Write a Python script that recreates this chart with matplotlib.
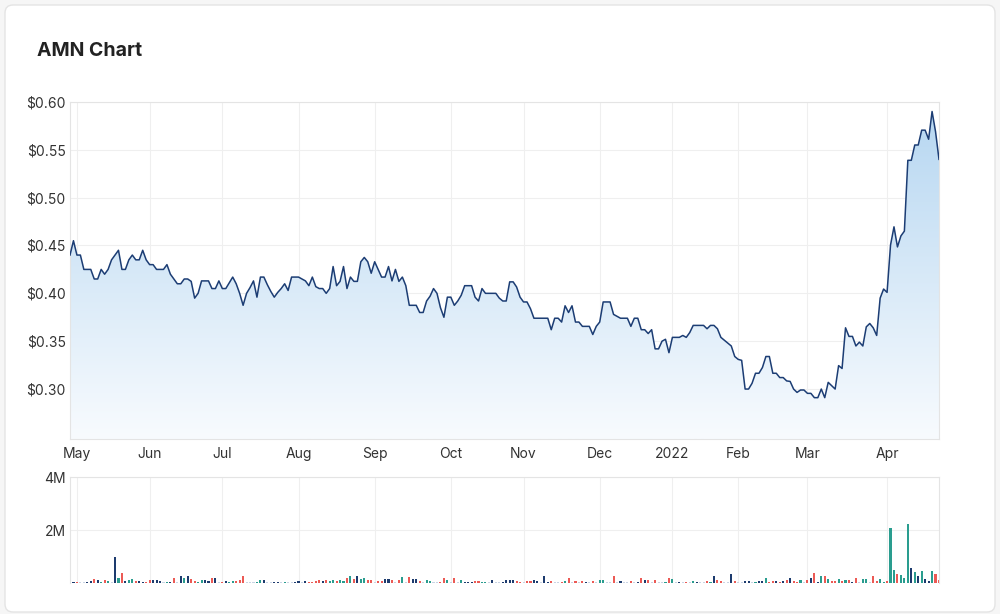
import numpy as np
import pandas as pd
import matplotlib
matplotlib.use("Agg")
import matplotlib.pyplot as plt
import matplotlib.patches as mpatches
from matplotlib.transforms import IdentityTransform

plt.rcParams['font.family'] = ['Inter', 'DejaVu Sans']

# ASX trading days, 29 Apr 2021 - 27 Apr 2022
holidays = ['2021-06-14', '2021-12-27', '2021-12-28', '2022-01-03',
            '2022-01-26', '2022-04-15', '2022-04-18', '2022-04-25']
days = pd.bdate_range('2021-04-29', '2022-04-27')
days = days[~days.isin(pd.to_datetime(holidays))]

price = [
    0.44, 0.455, 0.44, 0.44, 0.425, 0.425, 0.425, 0.415, 0.415, 0.425,
    0.42, 0.425, 0.435, 0.44, 0.445, 0.425, 0.425, 0.435, 0.44, 0.435,
    0.435, 0.445, 0.435, 0.43, 0.43, 0.425, 0.425, 0.425, 0.43, 0.42,
    0.415, 0.41, 0.41, 0.415, 0.415, 0.4125, 0.395, 0.40, 0.413, 0.413,
    0.413, 0.405, 0.405, 0.413, 0.405, 0.405, 0.411, 0.417, 0.41, 0.40,
    0.3875, 0.40, 0.406, 0.413, 0.396, 0.417, 0.417, 0.409, 0.402, 0.396,
    0.401, 0.405, 0.41, 0.403, 0.417, 0.417, 0.417, 0.415, 0.413, 0.408,
    0.417, 0.407, 0.405, 0.405, 0.40, 0.405, 0.428, 0.408, 0.4125, 0.428,
    0.405, 0.417, 0.4125, 0.4125, 0.433, 0.4375, 0.433, 0.421, 0.433, 0.425,
    0.417, 0.417, 0.428, 0.413, 0.425, 0.4125, 0.417, 0.408, 0.3875, 0.3875,
    0.3875, 0.38, 0.38, 0.392, 0.397, 0.405, 0.40, 0.385, 0.375, 0.396,
    0.396, 0.3875, 0.392, 0.398, 0.408, 0.408, 0.408, 0.396, 0.392, 0.405,
    0.40, 0.40, 0.40, 0.40, 0.395, 0.392, 0.392, 0.412, 0.412, 0.4066,
    0.396, 0.391, 0.391, 0.384, 0.374, 0.374, 0.374, 0.374, 0.374, 0.362,
    0.374, 0.374, 0.37, 0.387, 0.38, 0.387, 0.37, 0.37, 0.3655, 0.3655,
    0.3655, 0.357, 0.3655, 0.37, 0.391, 0.391, 0.391, 0.378, 0.376, 0.374,
    0.374, 0.374, 0.3655, 0.374, 0.374, 0.362, 0.362, 0.358, 0.362, 0.342,
    0.342, 0.35, 0.352, 0.338, 0.354, 0.354, 0.354, 0.356, 0.354, 0.359,
    0.3665, 0.3665, 0.3665, 0.3665, 0.363, 0.3665, 0.3665, 0.363, 0.354, 0.351,
    0.348, 0.345, 0.334, 0.331, 0.33, 0.30, 0.30, 0.306, 0.3165, 0.3165,
    0.3225, 0.334, 0.334, 0.3165, 0.3165, 0.312, 0.312, 0.3085, 0.308, 0.30,
    0.2965, 0.299, 0.299, 0.2955, 0.2955, 0.291, 0.291, 0.30, 0.291, 0.307,
    0.3035, 0.30, 0.3245, 0.3215, 0.364, 0.355, 0.355, 0.345, 0.349, 0.345,
    0.365, 0.3685, 0.364, 0.356, 0.395, 0.4045, 0.401, 0.4505, 0.4695, 0.4485,
    0.46, 0.465, 0.539, 0.539, 0.555, 0.555, 0.5705, 0.5705, 0.561, 0.59,
    0.569, 0.54,
]

# volume in millions
volume = [
    .05, .05, .05, .03, .03, .05, .06, .15, .10, .05,
    .12, .06, .04, .97, .20, .36, .08, .12, .15, .08,
    .06, .05, .04, .12, .10, .10, .08, .04, .04, .05,
    .20, .05, .25, .17, .25, .16, .08, .05, .10, .12,
    .08, .17, .20, .04, .04, .08, .05, .08, .08, .10,
    .25, .04, .03, .03, .05, .12, .12, .04, .03, .05,
    .04, .03, .04, .03, .03, .05, .08, .04, .08, .04,
    .03, .08, .10, .06, .10, .06, .12, .08, .12, .06,
    .20, .28, .15, .28, .15, .18, .10, .10, .03, .06,
    .08, .15, .15, .10, .03, .12, .22, .03, .22, .15,
    .15, .08, .05, .12, .06, .03, .03, .05, .18, .12,
    .05, .20, .04, .10, .05, .05, .05, .08, .08, .05,
    .05, .03, .10, .03, .03, .05, .12, .12, .12, .08,
    .05, .03, .08, .08, .12, .08, .03, .25, .05, .08,
    .03, .03, .05, .08, .20, .03, .08, .03, .08, .05,
    .03, .08, .03, .12, .12, .03, .03, .28, .03, .08,
    .03, .03, .08, .03, .05, .18, .12, .12, .03, .12,
    .03, .03, .05, .18, .15, .03, .05, .03, .05, .03,
    .08, .05, .03, .03, .08, .05, .28, .12, .08, .03,
    .03, .33, .08, .03, .03, .08, .08, .03, .05, .08,
    .08, .20, .05, .08, .08, .05, .08, .12, .18, .08,
    .05, .12, .03, .12, .18, .36, .05, .28, .25, .15,
    .08, .08, .15, .08, .12, .12, .05, .18, .03, .15,
    .15, .03, .28, .08, .15, .05, .08, 2.07, .50, .33,
    .30, .18, 2.23, .57, .42, .25, .45, .15, .08, .45,
    .33, .12,
]

vol_kind = (
    "nnrppnnrnt" "rtpntrnttr" "nnrrnnnptn" "rpntnrrttn" "nrnprnttrr"
    "rpppttnppn" "nptppnnpnr" "rrrnrttrtt" "rtrnttrrpr" "rnnrprtprn"
    "nrpttpprrt" "prptnnnrrt" "tpnppnnnnr" "rprrnnpnnr" "pprtrprprn"
    "prpttpprpn" "pprpnrnrpr" "pptrtpnprp" "tnpprtnrrp" "pnrppnnptn"
    "ntrrnrnrnr" "rtprnrntrt" "rrtrtrnrpt" "tprrttrttr" "tttntntnnt"
    "rr"
)
kind_colors = {'r': '#ec5a55', 't': '#2a9d8f', 'n': '#1d3b6e', 'p': '#c9d4e4'}

month_names = ['May', 'Jun', 'Jul', 'Aug', 'Sep', 'Oct', 'Nov', 'Dec',
               '2022', 'Feb', 'Mar', 'Apr']
price_ticks = [0.30, 0.35, 0.40, 0.45, 0.50, 0.55, 0.60]

n = min(len(price), len(days))
price = np.array(price[:n])
volume = np.array(volume[:n])
dates = days[:n]
x = np.arange(n)

# first trading day of each month
per = dates.to_period('M')
month_idx = [i for i in range(1, n) if per[i] != per[i - 1]]

fig = plt.figure(figsize=(10, 6.14), dpi=100)
fig.patch.set_facecolor('#f6f6f6')
card = mpatches.FancyBboxPatch((5, 2), 990, 607,
                               boxstyle="round,pad=0,rounding_size=8",
                               transform=IdentityTransform(),
                               facecolor='white', edgecolor='#e4e4e4', lw=1,
                               zorder=-10)
fig.patches.append(card)

fig.text(0.037, 0.917, 'AMN Chart', fontsize=14, fontweight='bold',
         color='#222222', va='center', ha='left')

grid_c = '#efefef'
spine_c = '#e4e4e4'

ax = fig.add_axes([0.07, 0.285, 0.869, 0.549])
ax.patch.set_alpha(0)
ylo, yhi = 0.2478, 0.60
line, = ax.plot(x, price, color='#1c3d74', lw=1.1, zorder=3)
poly = ax.fill_between(x, price, ylo, color='none', lw=0)
top = np.array([181, 214, 241]) / 255
bot = np.array([248, 251, 254]) / 255
t = np.linspace(0, 1, 256)[:, None]
grad = (top * (1 - t) + bot * t)[:, None, :]
im = ax.imshow(grad, extent=[0, n - 1, ylo, yhi], aspect='auto',
               origin='upper', zorder=1)
im.set_clip_path(poly.get_paths()[0], transform=ax.transData)
ax.set_xlim(0, n - 1)
ax.set_ylim(ylo, yhi)
ax.set_yticks(price_ticks)
ax.set_yticklabels(['$%.2f' % v for v in price_ticks])
ax.set_xticks(month_idx)
ax.set_xticklabels(month_names[:len(month_idx)])
ax.grid(True, color=grid_c, lw=0.8, zorder=0)
ax.set_axisbelow(True)
ax.tick_params(length=0, labelsize=10, colors='#333333', pad=3)
ax.tick_params(axis='x', pad=6)
for s in ax.spines.values():
    s.set_color(spine_c)
    s.set_linewidth(0.8)

axv = fig.add_axes([0.07, 0.0505, 0.869, 0.1726])
axv.patch.set_alpha(0)
axv.bar(x, volume * 1e6, width=0.6,
        color=[kind_colors[k] for k in vol_kind[:n]], zorder=2)
axv.set_xlim(0, n - 1)
axv.set_ylim(0, 4e6)
axv.set_yticks([2e6, 4e6])
axv.set_yticklabels(['2M', '4M'])
axv.set_xticks(month_idx)
axv.set_xticklabels([])
axv.grid(True, color=grid_c, lw=0.8, zorder=0)
axv.set_axisbelow(True)
axv.tick_params(length=0, labelsize=10, colors='#333333', pad=3)
for s in axv.spines.values():
    s.set_color(spine_c)
    s.set_linewidth(0.8)
axv.spines['bottom'].set_visible(False)

fig.savefig('out.png', dpi=100, facecolor=fig.get_facecolor())
